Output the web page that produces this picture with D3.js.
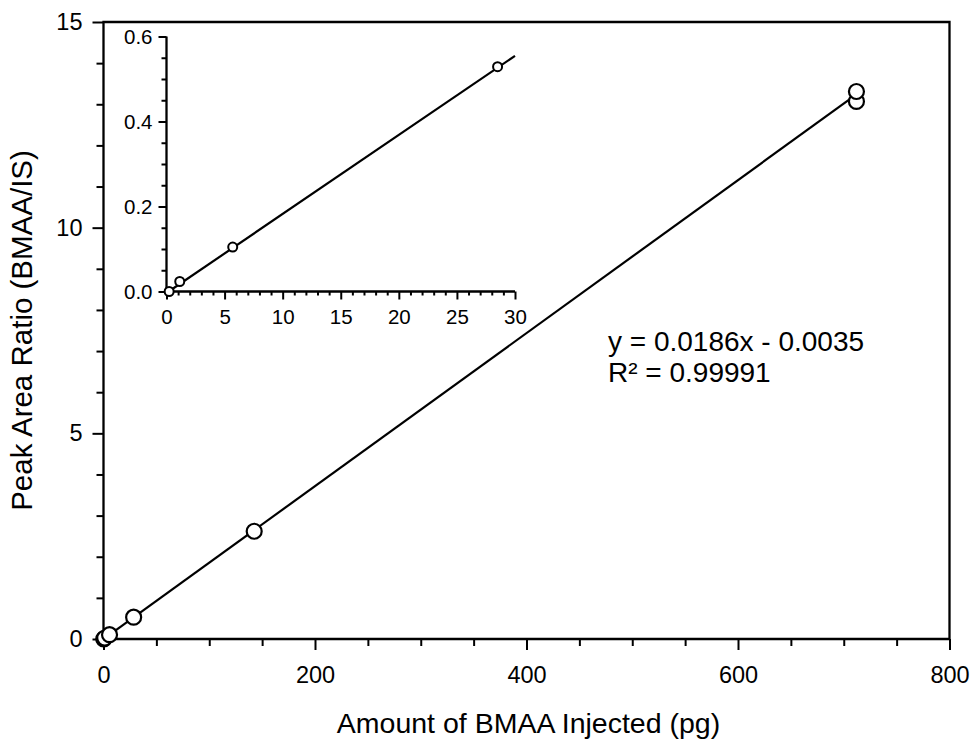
<!DOCTYPE html>
<html>
<head>
<meta charset="utf-8">
<script src="https://cdn.jsdelivr.net/npm/d3@7"></script>
<style>
  html, body { margin: 0; padding: 0; background: #fff; }
  svg { display: block; font-family: Arial, "Liberation Sans", sans-serif; }
</style>
</head>
<body>
<svg id="chart" width="974" height="740"></svg>
<script>
// ---- data ----
const mainX = [0.228, 1.14, 5.7, 28.5, 142.5, 712, 712];
const mainY = [0.0, 0.0235, 0.105, 0.53, 2.62, 13.07, 13.31];
const insetX = [0.228, 1.14, 5.7, 28.5];
const insetY = [0.0, 0.0235, 0.1045, 0.529];
const slope = 0.0186, intercept = -0.0035;
const mainXTicks = [0, 200, 400, 600, 800];
const mainYTicks = [0, 5, 10, 15];
const insetXTicks = [0, 5, 10, 15, 20, 25, 30];
const insetYTicks = [0.0, 0.2, 0.4, 0.6];
const eqLines = ["y = 0.0186x - 0.0035", "R\u00B2 = 0.99991"];
const xTitle = "Amount of BMAA Injected (pg)";
const yTitle = "Peak Area Ratio (BMAA/IS)";

const svg = d3.select("#chart");

// ---- main scales ----
const x = d3.scaleLinear().domain([0, 800]).range([103.5, 949.5]);
const y = d3.scaleLinear().domain([0, 15]).range([639, 22]);

const main = svg.append("g");

function drawAxis(g, scale, orient, majors, minors, majLen, minLen, fmt, fontSize, pad) {
  const ax = g.append("g");
  const minorAxis = (orient === "bottom" ? d3.axisBottom(scale) : d3.axisLeft(scale))
    .tickValues(minors).tickSize(minLen).tickFormat("");
  const mg = ax.append("g").call(minorAxis);
  mg.select(".domain").remove();
  mg.selectAll("line").attr("stroke", "#000").attr("stroke-width", 2);
  const majorAxis = (orient === "bottom" ? d3.axisBottom(scale) : d3.axisLeft(scale))
    .tickValues(majors).tickSize(majLen).tickPadding(pad).tickFormat(fmt);
  const Mg = ax.append("g").call(majorAxis);
  Mg.select(".domain").remove();
  Mg.selectAll("line").attr("stroke", "#000").attr("stroke-width", 2);
  Mg.selectAll("text").attr("fill", "#000").style("font-size", fontSize + "px")
    .style("font-family", "Arial, 'Liberation Sans', sans-serif");
  return ax;
}

// main x axis
const gx = main.append("g").attr("transform", `translate(0,${y(0)})`);
drawAxis(gx, x, "bottom", mainXTicks, d3.range(0, 801, 50).filter(v => v % 200 !== 0),
  11, 7, d3.format("d"), 23.5, 16);
// main y axis
const gy = main.append("g").attr("transform", `translate(${x(0)},0)`);
drawAxis(gy, y, "left", mainYTicks, d3.range(0, 16, 1).filter(v => v % 5 !== 0),
  11, 7, d3.format("d"), 23.5, 10);

// frame
main.append("path")
  .attr("d", `M${x(0)},${y(15)} H${x(800)} V${y(0)} H${x(0)} Z`)
  .attr("fill", "none").attr("stroke", "#000").attr("stroke-width", 2.3);

// regression line (main)
main.append("line")
  .attr("x1", x(0)).attr("y1", y(slope * 0 + intercept))
  .attr("x2", x(712)).attr("y2", y(slope * 712 + intercept))
  .attr("stroke", "#000").attr("stroke-width", 2.2);

// main points
main.selectAll("circle.pt").data(mainX.map((d, i) => [d, mainY[i]])).enter()
  .append("circle").attr("class", "pt")
  .attr("cx", d => x(d[0])).attr("cy", d => y(d[1])).attr("r", 7.5)
  .attr("fill", "#fff").attr("stroke", "#000").attr("stroke-width", 2.2);

// titles
main.append("text").attr("x", (x(0) + x(800)) / 2 + 2).attr("y", 733)
  .attr("text-anchor", "middle").style("font-size", "28.5px").attr("fill", "#000").text(xTitle);
main.append("text")
  .attr("transform", `translate(32,${(y(0) + y(15)) / 2}) rotate(-90)`)
  .attr("text-anchor", "middle").style("font-size", "29.5px").attr("fill", "#000").text(yTitle);

// equation
eqLines.forEach((t, i) => main.append("text")
  .attr("x", 608).attr("y", 351 + i * 31)
  .style("font-size", "28px").attr("fill", "#000").text(t));

// ---- inset ----
const ix = d3.scaleLinear().domain([0, 30]).range([166.5, 515]);
const iy = d3.scaleLinear().domain([0, 0.6]).range([291.5, 36.5]);
const inset = svg.append("g");

const igx = inset.append("g").attr("transform", `translate(0,${iy(0)})`);
drawAxis(igx, ix, "bottom", insetXTicks, d3.range(0, 31, 1).filter(v => v % 5 !== 0),
  8, 4, d3.format("d"), 20.5, 10);
const igy = inset.append("g").attr("transform", `translate(${ix(0)},0)`);
drawAxis(igy, iy, "left", insetYTicks, d3.range(0, 0.601, 0.05).filter((v, i) => i % 4 !== 0),
  8, 5, d3.format(".1f"), 20.5, 6);

inset.append("path")
  .attr("d", `M${ix(0)},${iy(0.6)} V${iy(0)} H${ix(30)}`)
  .attr("fill", "none").attr("stroke", "#000").attr("stroke-width", 2.3);

inset.append("line")
  .attr("x1", ix(0)).attr("y1", iy(slope * 0 + intercept))
  .attr("x2", ix(30)).attr("y2", iy(slope * 30 + intercept))
  .attr("stroke", "#000").attr("stroke-width", 2.2);

inset.selectAll("circle.ipt").data(insetX.map((d, i) => [d, insetY[i]])).enter()
  .append("circle").attr("class", "ipt")
  .attr("cx", d => ix(d[0])).attr("cy", d => iy(d[1])).attr("r", 4.5)
  .attr("fill", "#fff").attr("stroke", "#000").attr("stroke-width", 2);
</script>
</body>
</html>
